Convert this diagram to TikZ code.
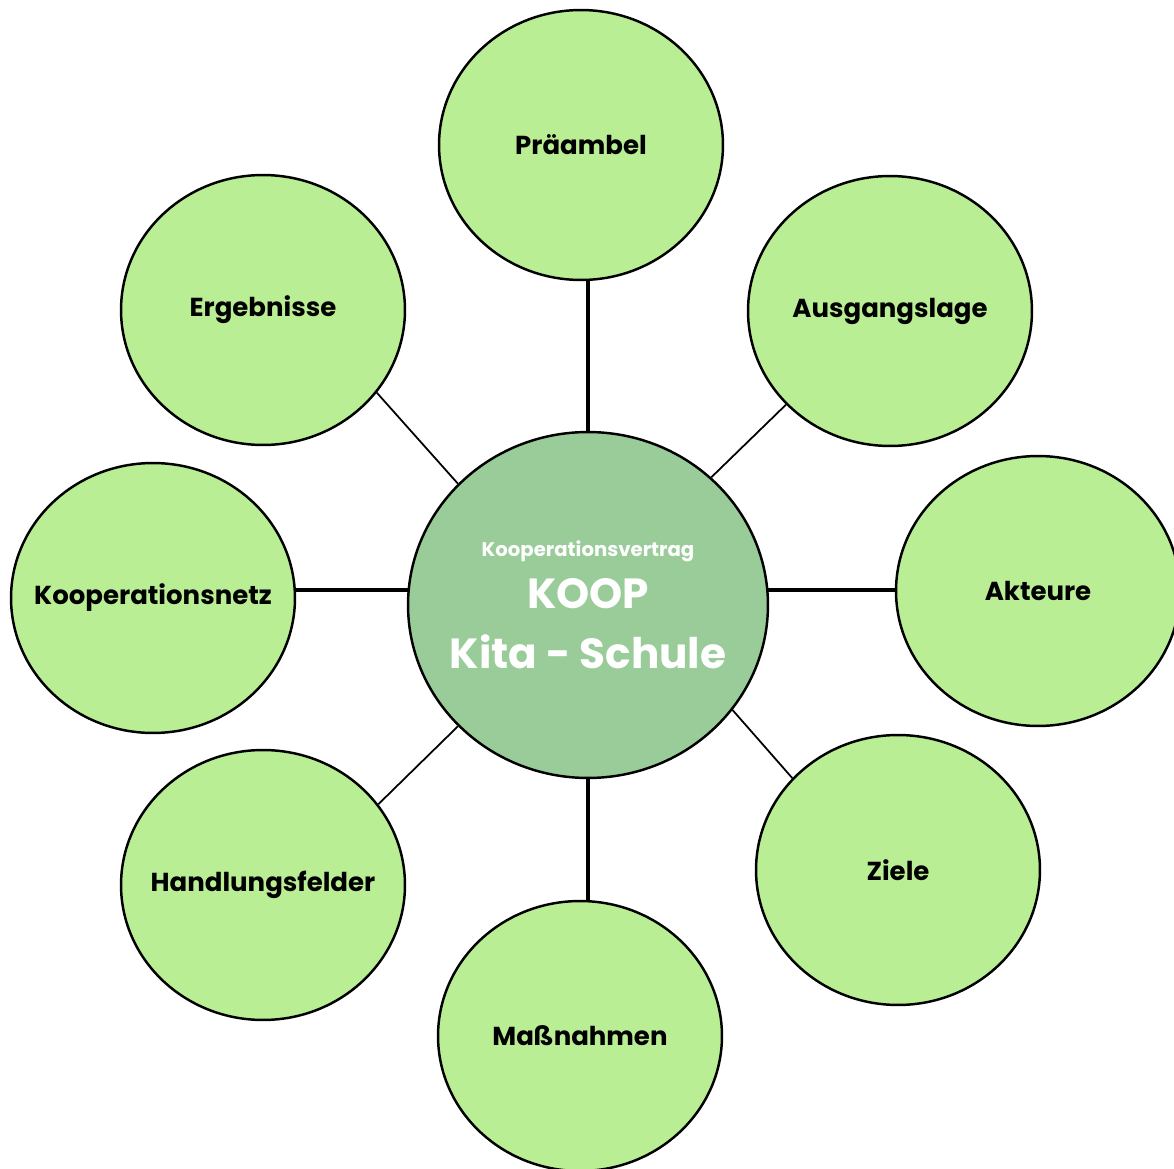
\documentclass[tikz,border=0pt]{standalone}
\usepackage{fontspec}
\setmainfont{Poppins}
\usepackage{tikz}
\usetikzlibrary{positioning, shapes.geometric}

\definecolor{blatt}{RGB}{185,238,148}
\definecolor{mitte}{RGB}{153,204,153}

\begin{document}
\begin{tikzpicture}[x=0.02cm, y=-0.02cm,
        every node/.style={ellipse, draw, line width=1.4pt, fill=blatt, inner xsep=-0.6cm, minimum width=5.68cm, minimum height=5.4cm, font=\bfseries\fontsize{14.8}{18}\selectfont},
        zentrum/.style={fill=mitte, minimum width=7.2cm, minimum height=6.92cm, text=white, align=center, font=\bfseries\fontsize{24}{32}\selectfont}]
        \useasboundingbox (0,0) rectangle (1174,1169);

        % Nodes
        \node (Z) [zentrum] at (588,605) {{\fontsize{11.2}{14}\selectfont Kooperationsvertrag}\\[-2.5pt]
                KOOP\\[2pt]
                Kita - Schule};
        \node (P) at (581,145) {Präambel};
        \node (A) at (890,311) {Ausgangslage};
        \node (K) at (1038,591) {Akteure};
        \node (Zi) at (898,870) {Ziele};
        \node (M) at (580,1036) {Maßnahmen};
        \node (H) at (263,885) {Handlungsfelder};
        \node (N) at (153,598) {Kooperationsnetz};
        \node (E) at (263,310) {Ergebnisse};

        % Edges
        \draw[line width=2pt] (Z.north -| 588,0) -- (P.south -| 588,0);
        \draw[line width=2pt] (Z.south -| 588,0) -- (M.north -| 588,0);
        \draw[line width=2pt] (N.east |- 0,590) -- (408,590);
        \draw[line width=2pt] (768,590) -- (K.west |- 0,590);

        % thin connectors on the diagonals
        \foreach \i/\a/\b in {A/-138/46, Zi/139/-36, H/35/-137, E/-36/137} {
                \draw[line width=1pt] (\i.\a) -- (Z.\b);
        }
\end{tikzpicture}
\end{document}
